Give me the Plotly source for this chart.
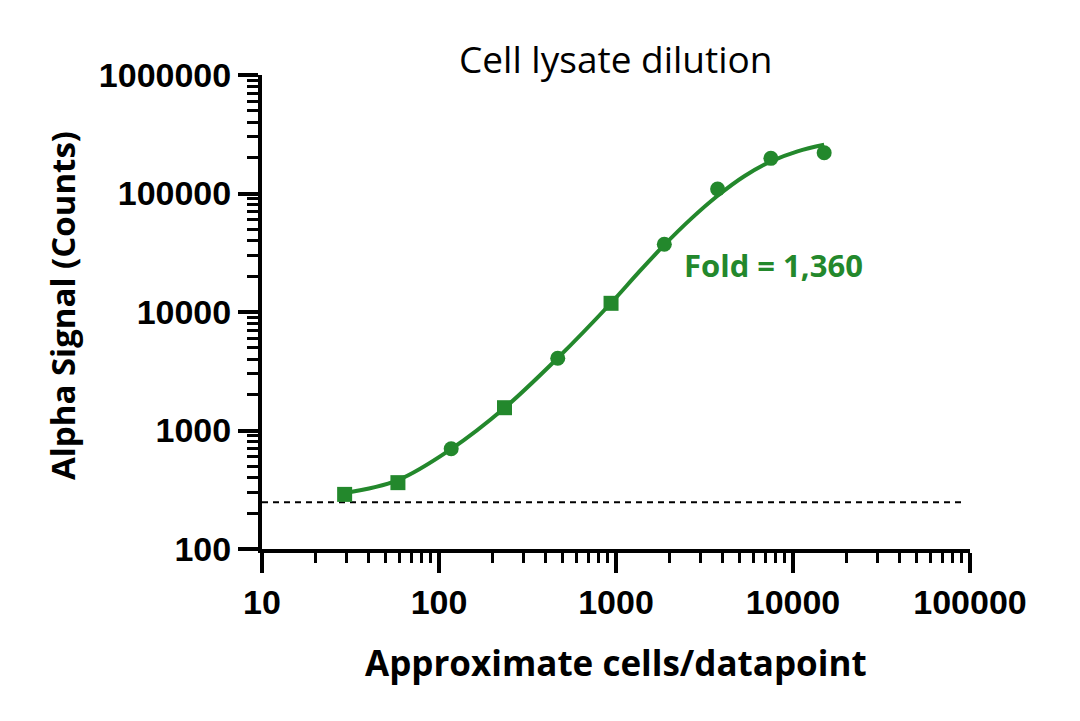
import plotly.graph_objects as go

# ---- data ----
cells = [29.3, 58.6, 117.2, 234.4, 468.8, 937.5, 1875, 3750, 7500, 15000]
signal = [289, 363, 702, 1557, 4068, 11840, 37260, 109200, 198000, 221000]
symbols = ["square", "square", "circle", "square", "circle", "square",
           "circle", "circle", "circle", "circle"]

# fitted curve
fit_x = [29.3, 58.6, 117.2, 234.4, 468.8, 937.5, 1326, 1875, 2652, 3750,
         5303, 7500, 10607, 15000]
fit_y = [297, 382, 698, 1548, 4090, 11910, 21180, 36800, 61080, 95700,
         139900, 186600, 226900, 257600]

baseline_x = [10, 92000]
baseline_y = [248, 248]

x_ticks = [10, 100, 1000, 10000, 100000]
x_labels = ["10", "100", "1000", "10000", "100000"]
y_ticks = [100, 1000, 10000, 100000, 1000000]
y_labels = ["100", "1000", "10000", "100000", "1000000"]
minor_x = [m * d for d in [10, 100, 1000, 10000] for m in range(2, 10)]
minor_y = [m * d for d in [100, 1000, 10000, 100000] for m in range(2, 10)]

GREEN = "#23882C"
TXT = "Open Sans"

fig = go.Figure()
fig.add_trace(go.Scatter(x=baseline_x, y=baseline_y, mode="lines",
                         line=dict(color="black", width=2, dash="6px,5px"),
                         hoverinfo="skip", showlegend=False))
fig.add_trace(go.Scatter(x=fit_x, y=fit_y, mode="lines",
                         line=dict(color=GREEN, width=4, shape="spline", smoothing=1.0),
                         showlegend=False))
fig.add_trace(go.Scatter(x=cells, y=signal, mode="markers",
                         marker=dict(color=GREEN, size=15, symbol=symbols),
                         cliponaxis=False, showlegend=False))

tickfont = dict(family="Liberation Sans", size=34, color="black", weight="bold")
common = dict(type="log", showgrid=False, zeroline=False, showline=True,
              linecolor="black", linewidth=4, ticks="outside", ticklen=20,
              tickwidth=4, tickcolor="black", tickmode="array", tickfont=tickfont)

fig.update_xaxes(range=[1, 5], tickvals=x_ticks, ticktext=x_labels,
                 minor=dict(tickmode="array", tickvals=minor_x, ticks="outside",
                            ticklen=10, tickwidth=3, tickcolor="black"),
                 **common)
fig.update_yaxes(range=[2, 6], tickvals=y_ticks, ticktext=y_labels,
                 minor=dict(tickmode="array", tickvals=minor_y, ticks="outside",
                            ticklen=11, tickwidth=3, tickcolor="black"),
                 **common)

# page body has an 8px margin, so shift the plot area up/left by 8px
fig.update_layout(
    width=1080, height=721,
    margin=dict(l=254, r=118, t=67, b=180),
    paper_bgcolor="white", plot_bgcolor="white",
    annotations=[
        dict(text="Cell lysate dilution", xref="paper", yref="paper", x=0.5, y=1,
             yshift=17, xanchor="center", yanchor="middle", showarrow=False,
             font=dict(family=TXT, size=37, color="black")),
        dict(text="<b>Approximate cells/datapoint</b>", xref="paper", yref="paper",
             x=0.5, y=0, yshift=-113, xanchor="center", yanchor="middle",
             showarrow=False, font=dict(family=TXT, size=35, color="black")),
        dict(text="<b>Alpha Signal (Counts)</b>", xref="paper", yref="paper",
             x=0, y=0.5, xshift=-200, yshift=6, xanchor="center", yanchor="middle",
             textangle=-90, showarrow=False,
             font=dict(family=TXT, size=33, color="black")),
        dict(text="<b>Fold = 1,360</b>", xref="paper", yref="paper",
             x=(773 - 262) / 708, y=(549 - 265) / 474, xanchor="center",
             yanchor="middle", showarrow=False,
             font=dict(family=TXT, size=31, color=GREEN)),
    ],
)

fig.write_html("out.html")
